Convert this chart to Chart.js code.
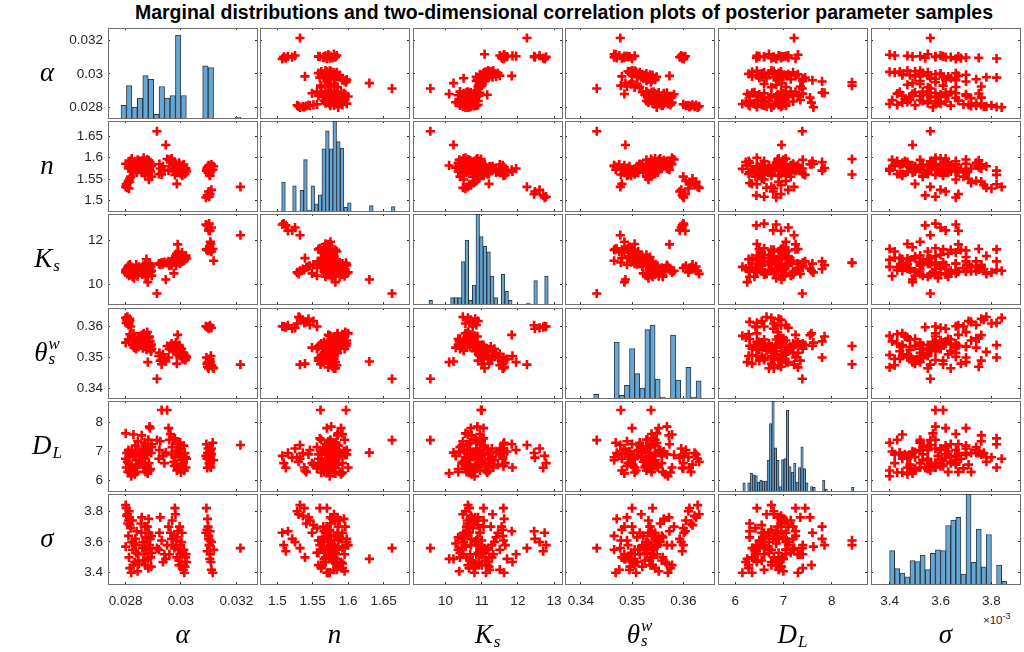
<!DOCTYPE html>
<html>
<head>
<meta charset="utf-8">
<script src="https://cdn.jsdelivr.net/npm/chart.js@4.4.1/dist/chart.umd.min.js"></script>
<style>
html,body{margin:0;padding:0;background:#fff;}
#wrap{position:relative;width:1024px;height:652px;overflow:hidden;background:#fff;}
#wrap canvas{position:absolute;}
.title{position:absolute;left:108px;width:912px;top:1px;text-align:center;font:bold 19.5px "Liberation Sans",Arial,sans-serif;color:#000;white-space:nowrap;}
.lab{position:absolute;display:flex;align-items:center;justify-content:center;font-family:"Liberation Serif","Times New Roman",serif;font-style:italic;font-size:27px;color:#000;line-height:1.15;}
.sb{font-size:17px;position:relative;top:7px;font-style:italic;margin-left:1px;}
.ss{display:inline-flex;flex-direction:column;font-size:17px;line-height:15px;position:relative;top:-2px;margin-left:1px;}
.ss span{display:block;}
.expo{position:absolute;left:983px;top:611px;font:11.5px "Liberation Sans",Arial,sans-serif;color:#262626;white-space:nowrap;}
.expo sup{font-size:9px;vertical-align:5px;}
</style>
</head>
<body>
<div id="wrap">
  <div class="title">Marginal distributions and two-dimensional correlation plots of posterior parameter samples</div>
  <div class="expo">×10<sup>-3</sup></div>
</div>
<script>
// ---------------- posterior samples (one entry per sample) ----------------
const alphaS = [0.02800,0.02804,0.02808,0.02812,0.02810,0.02815,0.02806,0.02818,
  0.02800,0.02812,0.02815,0.02820,0.02822,0.02825,0.02828,0.02830,0.02833,0.02835,0.02838,0.02840,0.02843,0.02846,
  0.02855,0.02858,0.02860,0.02862,0.02865,0.02868,0.02870,0.02872,0.02875,0.02878,0.02880,0.02882,0.02884,0.02886,0.02888,0.02890,0.02892,0.02894,
  0.02913,0.02920,0.02925,0.02930,0.02935,0.02945,0.02950,0.02955,0.02958,
  0.02962,0.02966,0.02970,0.02974,0.02978,0.02980,0.02982,0.02985,0.02988,0.02990,0.02992,0.02995,0.02997,0.03000,0.03002,0.03005,0.03008,0.03012,0.03016,0.03020,
  0.03090,0.03095,0.03100,0.03105,0.03110,0.03102,
  0.03092,0.03096,0.03098,0.03100,0.03103,0.03106,0.03108,0.03110,0.03115,0.03118,0.03105,
  0.03215,
  0.02810,0.02824,0.02836,0.02844,0.02848,
  0.02857,0.02864,0.02870,0.02876,0.02883,0.02887,0.02893,
  0.02922,0.02940,
  0.02968,0.02976,0.02984,0.02993,0.02998,0.03004,0.03010,0.03014,0.03018,
  0.03094,0.03104,
  0.02802,0.02814];
const nS = [1.532,1.536,1.541,1.528,1.546,1.551,1.530,1.556,
  1.586,1.580,1.592,1.574,1.598,1.568,1.585,1.577,1.590,1.571,1.582,1.566,1.595,1.578,
  1.575,1.585,1.592,1.565,1.600,1.578,1.558,1.588,1.572,1.596,1.582,1.562,1.549,1.576,1.590,1.568,1.584,1.556,
  1.662,1.562,1.575,1.561,1.580,1.630,1.597,1.570,1.595,
  1.592,1.598,1.575,1.568,1.560,1.580,1.586,1.539,1.572,1.565,1.578,1.570,1.583,1.562,1.575,1.558,1.580,1.570,1.576,1.568,
  1.507,1.512,1.521,1.515,1.525,1.509,
  1.570,1.578,1.565,1.582,1.560,1.575,1.568,1.584,1.572,1.580,1.558,
  1.532,
  1.575,1.588,1.580,1.572,1.592,
  1.570,1.580,1.586,1.566,1.594,1.572,1.580,
  1.585,1.572,
  1.582,1.574,1.566,1.588,1.575,1.568,1.584,1.562,1.574,
  1.574,1.566,
  1.538,1.544];
const KsS = [10.62,10.70,10.78,10.55,10.85,10.90,10.48,10.75,
  10.55,10.40,10.65,10.80,10.50,10.35,10.62,10.28,10.72,10.45,10.90,10.58,10.38,10.68,
  10.60,10.72,10.45,10.85,10.55,10.68,10.92,10.35,11.15,10.62,10.10,10.78,10.50,10.88,10.70,10.58,10.82,10.40,
  9.58,10.95,10.90,11.00,10.92,10.22,10.98,11.05,10.85,
  10.95,10.88,11.00,10.50,11.05,11.30,10.85,11.20,11.83,11.50,11.10,11.25,10.95,11.15,11.35,11.05,11.22,11.12,11.28,11.18,
  12.74,12.70,12.47,12.45,12.60,12.78,
  11.60,11.62,11.55,11.58,11.65,11.95,11.85,11.50,11.62,11.08,11.60,
  12.25,
  10.52,10.60,10.70,10.48,10.80,
  10.65,10.75,10.58,10.82,10.68,10.95,10.62,
  10.95,11.02,
  11.05,11.18,11.40,11.00,11.28,11.45,11.08,11.20,11.32,
  11.58,11.70,
  10.66,10.82];
const thetaS = [0.3628,0.3622,0.3615,0.3610,0.3605,0.3618,0.3631,0.3600,
  0.3548,0.3560,0.3575,0.3570,0.3555,0.3540,0.3578,0.3532,0.3565,0.3545,0.3528,0.3538,0.3552,0.3534,
  0.3555,0.3572,0.3540,0.3530,0.3578,0.3548,0.3536,0.3560,0.3525,0.3582,0.3485,0.3545,0.3532,0.3568,0.3552,0.3538,0.3520,0.3528,
  0.3431,0.3505,0.3490,0.3478,0.3510,0.3487,0.3537,0.3500,0.3528,
  0.3538,0.3545,0.3530,0.3522,0.3540,0.3518,0.3548,0.3480,0.3573,0.3512,0.3525,0.3535,0.3515,0.3505,0.3528,0.3498,0.3495,0.3508,0.3492,0.3500,
  0.3601,0.3598,0.3593,0.3604,0.3596,0.3600,
  0.3500,0.3470,0.3485,0.3465,0.3492,0.3485,0.3505,0.3475,0.3468,0.3465,0.3490,
  0.3477,
  0.3558,0.3562,0.3550,0.3542,0.3568,
  0.3545,0.3558,0.3535,0.3550,0.3562,0.3528,0.3542,
  0.3515,0.3498,
  0.3532,0.3526,0.3510,0.3540,0.3520,0.3502,0.3515,0.3496,0.3505,
  0.3480,0.3495,
  0.3612,0.3625];
const DLS = [6.75,6.95,6.30,6.80,7.05,6.55,6.65,6.42,
  7.62,6.98,6.28,6.15,7.05,6.40,7.58,6.85,6.22,7.20,6.70,6.30,7.00,6.55,
  6.95,7.55,6.60,7.10,6.45,7.30,6.75,6.30,7.05,6.88,6.25,7.40,6.60,7.85,7.80,6.40,6.95,7.15,
  7.39,6.75,7.35,8.42,6.85,6.96,8.42,7.80,7.40,
  7.60,6.90,7.40,6.65,7.45,6.80,6.55,6.35,7.25,7.05,6.45,6.95,7.30,6.28,6.70,6.90,6.60,6.35,6.80,6.75,
  6.85,6.44,6.79,6.95,7.10,6.60,
  7.25,6.95,7.10,6.80,6.60,7.05,6.45,6.90,7.30,6.70,6.50,
  7.22,
  6.60,6.95,6.45,7.35,6.90,
  6.70,6.85,7.20,6.50,7.00,6.35,7.25,
  7.05,6.60,
  7.15,6.50,7.00,6.85,7.10,6.55,7.20,6.95,6.45,
  6.75,7.00,
  6.45,6.90];
// sigma in units of 1e-3
const sigmaS = [3.84,3.77,3.72,3.80,3.74,3.71,3.78,3.69,
  3.57,3.50,3.43,3.40,3.60,3.55,3.45,3.59,3.47,3.62,3.53,3.67,3.41,3.48,
  3.72,3.76,3.56,3.60,3.58,3.52,3.45,3.63,3.55,3.70,3.49,3.43,3.66,3.58,3.62,3.50,3.44,3.53,
  3.56,3.55,3.76,3.61,3.47,3.49,3.58,3.70,3.52,
  3.66,3.62,3.58,3.64,3.82,3.78,3.61,3.50,3.67,3.55,3.48,3.70,3.52,3.45,3.60,3.53,3.42,3.40,3.50,3.47,
  3.66,3.54,3.62,3.67,3.60,3.58,
  3.82,3.75,3.70,3.64,3.58,3.52,3.47,3.42,3.40,3.55,3.61,
  3.56,
  3.64,3.74,3.58,3.52,3.46,
  3.66,3.48,3.70,3.60,3.75,3.56,3.64,
  3.66,3.52,
  3.74,3.56,3.63,3.45,3.58,3.66,3.55,3.44,3.52,
  3.68,3.49,
  3.82,3.76];

// ---------------- histogram bin counts ----------------
const alphaCounts = [14,36,12,22,47,43,4,35,22,25,92,25,0,0,0,58,56,0,0,0,0,1];
const nCounts = [32,0,0,28,0,23,57,1,28,8,18,69,89,69,100,77,70,4,9,0,0,0,0,0,6,0,0,0,0,0,5];
const KsCounts = [4,0,0,0,0,0,7,7,7,47,71,4,21,100,75,64,58,31,7,0,33,14,4,0,0,0,0,1,0,26,0,0,31];
const thetaCounts = [4,0,0,0,62,3,14,55,27,11,76,81,21,1,0,70,20,0,34,1,19];
const DLCounts = [9,0,9,20,18,17,10,12,11,11,34,75,100,48,34,5,35,36,90,27,21,31,10,26,49,25,9,0,5,4,0,0,0,12,2,0,0,0,0,0,0,0,0,0,0,4];
const sigmaCounts = [37,17,12,8,26,25,32,16,34,38,37,65,71,74,11,100,24,61,19,55,0,21,3];

// ---------------- tick labels ----------------
const xTickLabels = [['0.028','0.03','0.032'],['1.5','1.55','1.6','1.65'],['10','11','12','13'],['0.34','0.35','0.36'],['6','7','8'],['3.4','3.6','3.8']];
const yTickLabels = [['0.028','0.03','0.032'],['1.5','1.55','1.6','1.65'],['10','12'],['0.34','0.35','0.36'],['6','7','8'],['3.4','3.6','3.8']];

// ---------------- axis / bin configuration ----------------
const samples = [alphaS, nS, KsS, thetaS, DLS, sigmaS];
const counts = [alphaCounts, nCounts, KsCounts, thetaCounts, DLCounts, sigmaCounts];
const ranges = [[0.02736,0.03275],[1.4755,1.686],[9.1,13.22],[0.3369,0.3660],[5.645,8.73],[3.327,3.912]];
const binStart = [0.02783, 1.5061, 9.54, 0.3425, 6.16, 3.40];
const binWidth = [0.000197, 0.00517, 0.1, 0.001, 0.05, 0.02];
const HIST_MAX = 100;

const colLeft = [108,260,413,565,718,871];
const rowTop = [28,121,214,308,401,494];
const W = 149, H = 90, M = 4, LP = 70, BP = 34;
const FONT = {family:'"Liberation Sans", Arial, sans-serif', size:13.5};
const TXT = '#262626';
const BORDER = '#707070';

function axis(pos, range, labels, showLabels, size) {
  const vals = labels.map(Number);
  const horizontal = (pos === 'top' || pos === 'bottom');
  return {
    type:'linear', position:pos, min:range[0], max:range[1], offset:false,
    afterBuildTicks: s => { s.ticks = vals.map(v => ({value:v})); },
    afterFit: s => {
      if (horizontal) s.height = size; else s.width = size;
      s.paddingLeft = 0; s.paddingRight = 0; s.paddingTop = 0; s.paddingBottom = 0;
    },
    grid:{display:true, drawOnChartArea:false, drawTicks:true, tickLength:-2, tickColor:'#333', tickWidth:1, offset:false},
    border:{display:true, color:BORDER, width:1},
    ticks:{display:showLabels, autoSkip:false, maxRotation:0, minRotation:0,
      padding: horizontal ? 11 : 7, font:FONT, color:TXT,
      callback:(v, idx) => labels[idx]}
  };
}

const wrap = document.getElementById('wrap');

function makePanel(i, j) {
  const lp = j === 0 ? LP : 0, bp = i === 5 ? BP : 0;
  const cw = W + 2*M + lp, ch = H + 2*M + bp;
  const cv = document.createElement('canvas');
  cv.width = cw; cv.height = ch;
  cv.style.left = (colLeft[j] - M - lp) + 'px';
  cv.style.top = (rowTop[i] - M) + 'px';
  cv.style.width = cw + 'px'; cv.style.height = ch + 'px';
  wrap.appendChild(cv);

  const scales = {
    x: axis('bottom', ranges[j], xTickLabels[j], i === 5, bp),
    y: axis('left', ranges[i], yTickLabels[i], j === 0, lp),
    x2: axis('top', ranges[j], xTickLabels[j], false, 0),
    y2: axis('right', ranges[i], yTickLabels[i], false, 0)
  };
  let type, datasets;
  if (i === j) {
    type = 'bar';
    scales.yh = {type:'linear', display:false, min:0, max:HIST_MAX};
    const data = counts[j].map((c, k) => ({x: binStart[j] + (k + 0.5) * binWidth[j], y: c})).filter(d => d.y > 0);
    datasets = [{data, xAxisID:'x', yAxisID:'yh', backgroundColor:'rgb(100,167,213)',
      borderColor:'rgba(25,35,50,0.9)', borderWidth:1, barPercentage:1, categoryPercentage:1}];
  } else {
    type = 'scatter';
    const data = samples[j].map((v, k) => ({x: v, y: samples[i][k]}));
    datasets = [{data, xAxisID:'x', yAxisID:'y', pointStyle:'cross', pointRadius:4.6,
      pointBorderWidth:2.6, borderColor:'#ff0000', backgroundColor:'#ff0000', showLine:false}];
  }
  new Chart(cv, {
    type, data:{datasets},
    options:{
      responsive:false, animation:false, devicePixelRatio:1, events:[],
      layout:{autoPadding:false, padding:{left:M, right:M, top:M, bottom:M}},
      plugins:{legend:{display:false}, tooltip:{enabled:false}, title:{display:false}},
      scales
    }
  });
}

for (let i = 0; i < 6; i++) for (let j = 0; j < 6; j++) makePanel(i, j);

// ---------------- variable labels ----------------
const varLabelsHTML = ['α', 'n', 'K<span class="sb">s</span>', 'θ<span class="ss"><span>w</span><span>s</span></span>', 'D<span class="sb">L</span>', 'σ'];
for (let k = 0; k < 6; k++) {
  const a = document.createElement('div');
  a.className = 'lab';
  a.style.left = '12px'; a.style.width = '70px';
  a.style.top = rowTop[k] + 'px'; a.style.height = H + 'px';
  a.innerHTML = varLabelsHTML[k];
  wrap.appendChild(a);
  const b = document.createElement('div');
  b.className = 'lab';
  b.style.left = colLeft[k] + 'px'; b.style.width = W + 'px';
  b.style.top = '618px'; b.style.height = '34px';
  b.innerHTML = varLabelsHTML[k];
  wrap.appendChild(b);
}
</script>
</body>
</html>
